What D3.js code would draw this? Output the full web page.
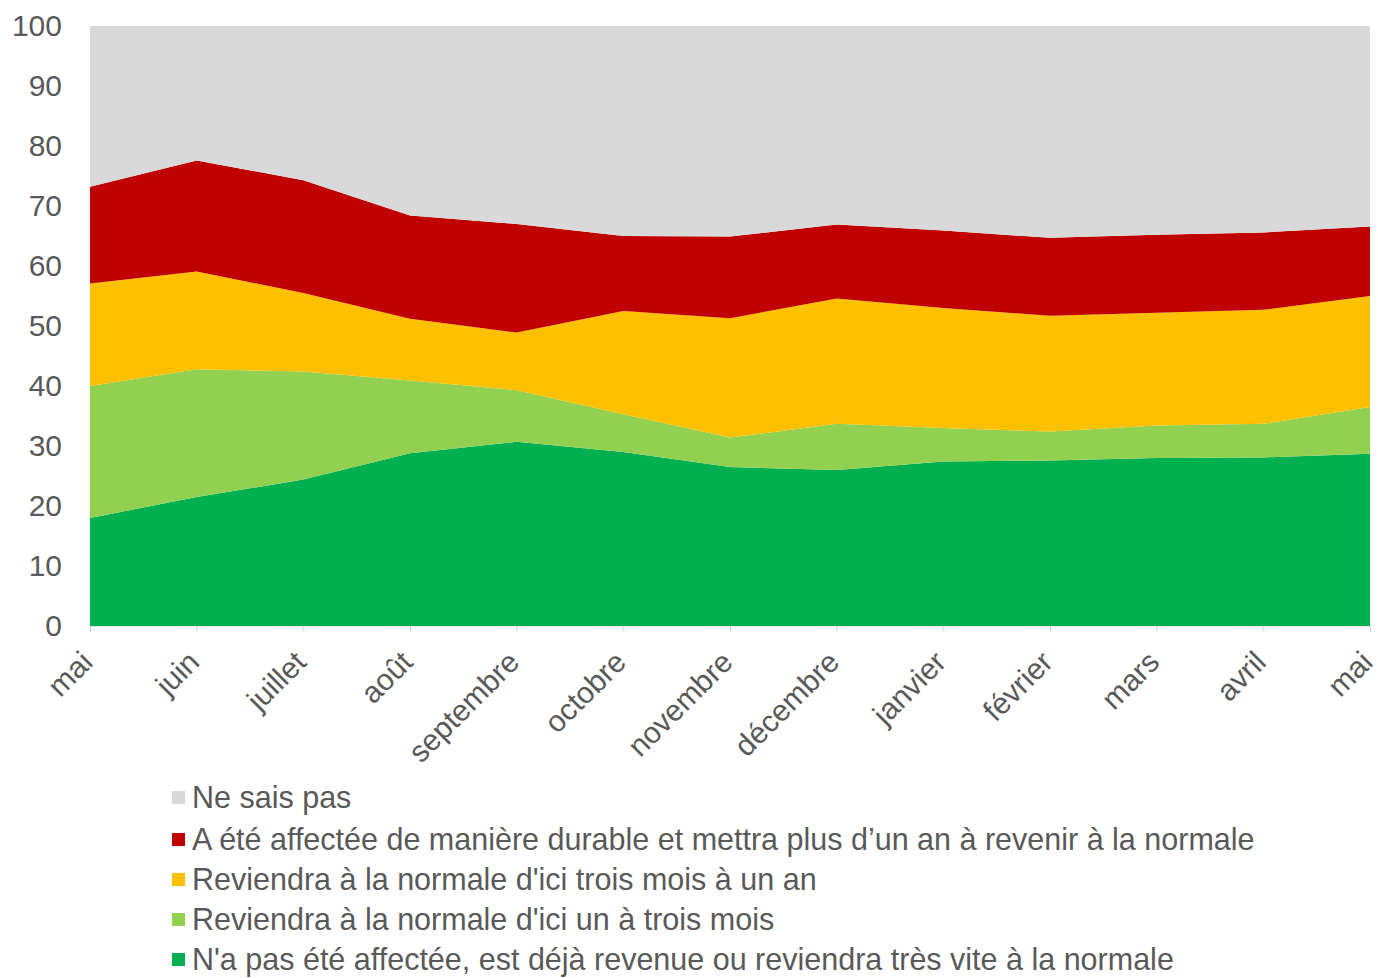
<!DOCTYPE html>
<html>
<head>
<meta charset="utf-8">
<script src="https://cdn.jsdelivr.net/npm/d3@7"></script>
<style>
  body { margin: 0; background: #fff; }
  text { font-family: "Liberation Sans", Arial, sans-serif; fill: #595959; }
</style>
</head>
<body>
<script>
// mois de l'enquête
const months = ['mai', 'juin', 'juillet', 'août', 'septembre', 'octobre', 'novembre',
  'décembre', 'janvier', 'février', 'mars', 'avril', 'mai'];

// parts (%), de bas en haut
const pasAffectee = [18.0, 21.5, 24.4, 28.8, 30.7, 29.0, 26.5, 26.0, 27.4, 27.6, 28.0, 28.1, 28.7];
const unATroisMois = [22.0, 21.3, 18.0, 12.1, 8.6, 6.3, 4.9, 7.7, 5.6, 4.8, 5.4, 5.6, 7.8];
const troisMoisUnAn = [17.1, 16.3, 13.1, 10.3, 9.6, 17.2, 19.9, 20.9, 20.0, 19.3, 18.8, 19.0, 18.5];
const plusUnAn = [16.1, 18.5, 18.8, 17.2, 18.1, 12.5, 13.6, 12.3, 12.9, 13.0, 13.0, 12.9, 11.6];
const neSaisPas = [26.8, 22.4, 25.7, 31.6, 33.0, 35.0, 35.1, 33.1, 34.1, 35.3, 34.8, 34.4, 33.4];

const yTicks = [0, 10, 20, 30, 40, 50, 60, 70, 80, 90, 100];

const seriesInfo = [
  { key: 'pas', label: "N'a pas été affectée, est déjà revenue ou reviendra très vite à la normale", color: '#00b050', values: pasAffectee },
  { key: 'un3', label: "Reviendra à la normale d'ici un à trois mois", color: '#92d050', values: unATroisMois },
  { key: 'trois', label: "Reviendra à la normale d'ici trois mois à un an", color: '#ffc000', values: troisMoisUnAn },
  { key: 'plus', label: "A été affectée de manière durable et mettra plus d’un an à revenir à la normale", color: '#c00000', values: plusUnAn },
  { key: 'nsp', label: 'Ne sais pas', color: '#d9d9d9', values: neSaisPas }
];

const width = 1378, height = 978;
const margin = { top: 26, right: 8, bottom: 352, left: 90 };
const fontSize = '30px';

const svg = d3.select('body').append('svg')
  .attr('width', width)
  .attr('height', height);

const x = d3.scalePoint()
  .domain(d3.range(months.length))
  .range([margin.left, width - margin.right]);

const y = d3.scaleLinear()
  .domain([0, 100])
  .range([height - margin.bottom, margin.top]);

// table pour d3.stack
const table = months.map((m, i) => {
  const row = { i };
  seriesInfo.forEach(s => { row[s.key] = s.values[i]; });
  return row;
});

const stack = d3.stack().keys(seriesInfo.map(s => s.key));
const layers = stack(table);

const area = d3.area()
  .x(d => x(d.data.i))
  .y0(d => y(d[0]))
  .y1(d => y(d[1]));

svg.append('g')
  .selectAll('path')
  .data(layers)
  .join('path')
  .attr('fill', (d, i) => seriesInfo[i].color)
  .attr('d', area);

// axe Y
const yAxis = svg.append('g')
  .attr('transform', `translate(${margin.left - 28},0)`)
  .call(d3.axisLeft(y).tickValues(yTicks).tickSize(0).tickPadding(0));
yAxis.select('.domain').remove();
yAxis.selectAll('text')
  .style('font-size', fontSize)
  .attr('dy', '0.3em')
  .attr('text-anchor', 'end');

// axe X
const xAxis = svg.append('g')
  .attr('transform', `translate(0,${y(0)})`)
  .call(d3.axisBottom(x).tickSize(6).tickFormat(i => months[i]));
xAxis.select('.domain').attr('stroke', '#e4e4e4');
xAxis.selectAll('.tick line').attr('stroke', '#d0d0d0');
xAxis.selectAll('text')
  .style('font-size', fontSize)
  .attr('text-anchor', 'end')
  .attr('dy', null)
  .attr('y', 0)
  .attr('transform', 'translate(4,38) rotate(-45)');

// légende
const legendRows = [...seriesInfo].reverse();
const legendY = [797, 839, 879, 919, 959];
const legend = svg.append('g');
legendRows.forEach((s, i) => {
  const g = legend.append('g').attr('transform', `translate(172,${legendY[i]})`);
  g.append('rect')
    .attr('x', 0).attr('y', -6)
    .attr('width', 13).attr('height', 13)
    .attr('fill', s.color);
  g.append('text')
    .attr('x', 20).attr('y', 0)
    .attr('dy', '0.35em')
    .style('font-size', '30.5px')
    .text(s.label);
});
</script>
</body>
</html>
